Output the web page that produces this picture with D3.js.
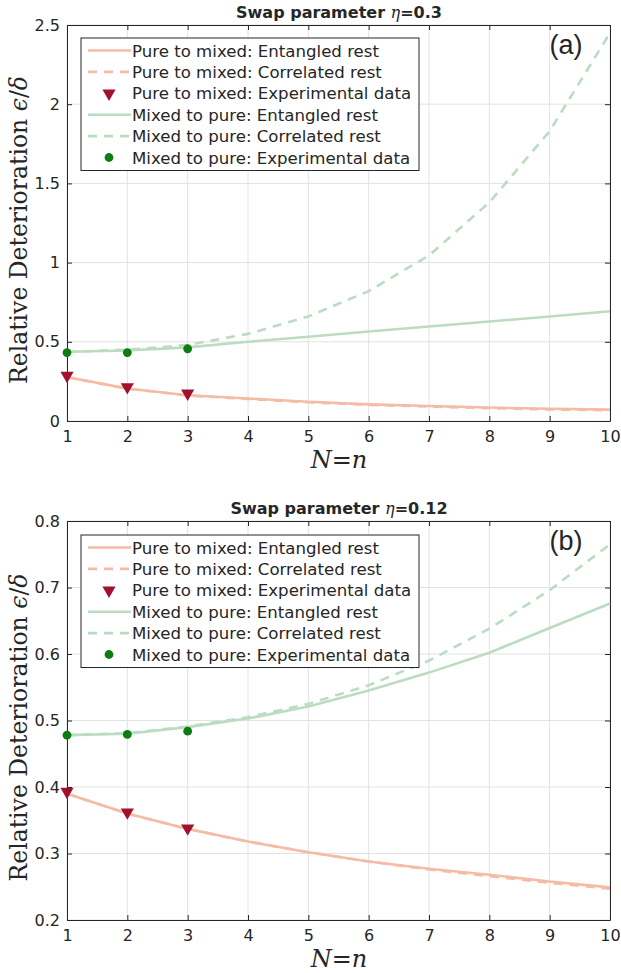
<!DOCTYPE html>
<html>
<head>
<meta charset="utf-8">
<script src="https://cdn.jsdelivr.net/npm/d3@7"></script>
<style>
  body { margin: 0; background: #fff; }
  text { fill: #262626; }
</style>
</head>
<body>
<script>
let width = 621,
    height = 973;

let nValues = [1, 2, 3, 4, 5, 6, 7, 8, 9, 10];
let expN = [1, 2, 3];

// panel (a), eta = 0.3
let aPureEntangled = [0.277, 0.205, 0.163, 0.142, 0.122, 0.105, 0.095, 0.085, 0.077, 0.072];
let aPureCorrelated = [0.277, 0.204, 0.161, 0.139, 0.118, 0.102, 0.091, 0.081, 0.073, 0.068];
let aPureExp = [0.287, 0.215, 0.175];
let aMixedEntangled = [0.437, 0.445, 0.465, 0.50, 0.532, 0.565, 0.597, 0.628, 0.66, 0.693];
let aMixedCorrelated = [0.437, 0.45, 0.48, 0.55, 0.66, 0.82, 1.045, 1.38, 1.83, 2.45];
let aMixedExp = [0.432, 0.432, 0.456];

// panel (b), eta = 0.12
let bPureEntangled = [0.39, 0.36, 0.337, 0.318, 0.302, 0.288, 0.277, 0.268, 0.258, 0.249];
let bPureCorrelated = [0.39, 0.36, 0.337, 0.318, 0.302, 0.288, 0.276, 0.266, 0.256, 0.247];
let bPureExp = [0.393, 0.362, 0.338];
let bMixedEntangled = [0.478, 0.48, 0.49, 0.503, 0.521, 0.545, 0.572, 0.602, 0.639, 0.676];
let bMixedCorrelated = [0.478, 0.481, 0.491, 0.505, 0.525, 0.553, 0.59, 0.638, 0.696, 0.765];
let bMixedExp = [0.478, 0.479, 0.484];

let aTicks = [0, 0.5, 1, 1.5, 2, 2.5];
let bTicks = [0.2, 0.3, 0.4, 0.5, 0.6, 0.7, 0.8];

let legendLabels = [
    "Pure to mixed: Entangled rest",
    "Pure to mixed: Correlated rest",
    "Pure to mixed: Experimental data",
    "Mixed to pure: Entangled rest",
    "Mixed to pure: Correlated rest",
    "Mixed to pure: Experimental data"
];

let pink = '#f5bba5',
    green = '#bcdcc2',
    darkRed = '#a2102f',
    darkGreen = '#0b7d12',
    axisColor = '#262626';

let svg = d3.select('body').append('svg')
    .attr('width', width)
    .attr('height', height);

let x = d3.scaleLinear().domain([1, 10]).range([67, 610]);

function drawPanel(cfg) {
    let g = svg.append('g');
    let y = d3.scaleLinear().domain(cfg.yDomain).range([cfg.bottom, cfg.top]);

    // grid
    g.selectAll('.vgrid').data(nValues).enter().append('line')
        .attr('x1', d => x(d)).attr('x2', d => x(d))
        .attr('y1', cfg.top).attr('y2', cfg.bottom)
        .attr('stroke', '#e2e2e2').attr('stroke-width', 1);
    g.selectAll('.hgrid').data(cfg.yTicks).enter().append('line')
        .attr('x1', x.range()[0]).attr('x2', x.range()[1])
        .attr('y1', d => y(d)).attr('y2', d => y(d))
        .attr('stroke', '#e2e2e2').attr('stroke-width', 1);

    // axes with inward ticks, box on
    let axB = g.append('g').attr('transform', 'translate(0,' + cfg.bottom + ')')
        .call(d3.axisBottom(x).tickValues(nValues).tickSizeInner(-5).tickSizeOuter(0).tickPadding(10));
    let axT = g.append('g').attr('transform', 'translate(0,' + cfg.top + ')')
        .call(d3.axisTop(x).tickValues(nValues).tickSizeInner(-5).tickSizeOuter(0).tickFormat(''));
    let axL = g.append('g').attr('transform', 'translate(' + x.range()[0] + ',0)')
        .call(d3.axisLeft(y).tickValues(cfg.yTicks).tickSizeInner(-5).tickSizeOuter(0).tickPadding(7).tickFormat(d3.format('')));
    let axR = g.append('g').attr('transform', 'translate(' + x.range()[1] + ',0)')
        .call(d3.axisRight(y).tickValues(cfg.yTicks).tickSizeInner(-5).tickSizeOuter(0).tickFormat(''));
    [axB, axT, axL, axR].forEach(a => {
        a.selectAll('path, line').attr('stroke', axisColor);
        a.selectAll('text').attr('font-family', 'DejaVu Sans').attr('font-size', 16).attr('fill', '#333');
    });

    let line = d3.line().x((d, i) => x(nValues[i])).y(d => y(d));

    let series = [
        {v: cfg.pureEnt, c: pink, dash: null},
        {v: cfg.pureCor, c: pink, dash: '9,7'},
        {v: cfg.mixEnt, c: green, dash: null},
        {v: cfg.mixCor, c: green, dash: '9,7'}
    ];
    series.forEach(s => {
        g.append('path').datum(s.v)
            .attr('d', line)
            .attr('fill', 'none')
            .attr('stroke', s.c)
            .attr('stroke-width', 2.6)
            .attr('stroke-dasharray', s.dash);
    });

    let tri = d3.symbol().type(d3.symbolTriangle).size(75);
    g.selectAll('.tri').data(cfg.pureExp).enter().append('path')
        .attr('d', tri)
        .attr('transform', (d, i) => 'translate(' + x(expN[i]) + ',' + y(d) + ') rotate(180)')
        .attr('fill', darkRed);
    g.selectAll('.dot').data(cfg.mixExp).enter().append('circle')
        .attr('cx', (d, i) => x(expN[i]))
        .attr('cy', d => y(d))
        .attr('r', 4.4)
        .attr('fill', darkGreen);

    // title
    let title = g.append('text')
        .attr('x', 339).attr('y', cfg.top - 7)
        .attr('text-anchor', 'middle')
        .attr('font-family', 'DejaVu Sans').attr('font-weight', 'bold').attr('font-size', 16)
        .attr('fill', '#000');
    title.append('tspan').text('Swap parameter ');
    title.append('tspan').text('η').attr('font-family', 'DejaVu Serif').attr('font-style', 'italic').attr('font-weight', 'normal');
    title.append('tspan').text('=' + cfg.eta);

    // panel label
    g.append('text')
        .attr('x', 566).attr('y', cfg.top + 29)
        .attr('text-anchor', 'middle')
        .attr('font-family', 'Liberation Sans').attr('font-size', 27).attr('fill', '#000')
        .text(cfg.label);

    // x label
    let xl = g.append('text')
        .attr('x', 339).attr('y', cfg.bottom + 47)
        .attr('text-anchor', 'middle')
        .attr('font-family', 'DejaVu Serif').attr('font-size', 24);
    xl.append('tspan').text('N').attr('font-style', 'italic');
    xl.append('tspan').text('=');
    xl.append('tspan').text('n').attr('font-style', 'italic');

    // y label
    let yl = g.append('text')
        .attr('transform', 'translate(27,' + ((cfg.top + cfg.bottom) / 2 + 7) + ') rotate(-90)')
        .attr('text-anchor', 'middle')
        .attr('font-family', 'DejaVu Serif').attr('font-size', 23.5);
    yl.append('tspan').text('Relative Deterioration ');
    yl.append('tspan').text('ϵ').attr('font-style', 'italic');
    yl.append('tspan').text('/');
    yl.append('tspan').text('δ').attr('font-style', 'italic');

    // legend
    let lg = g.append('g');
    let lx = 81, ly = cfg.top + cfg.legendOffset, rowH = 21.4;
    lg.append('rect')
        .attr('x', lx).attr('y', ly)
        .attr('width', 338).attr('height', 132.5)
        .attr('fill', '#fff').attr('stroke', '#262626').attr('stroke-width', 1);
    let styles = [
        {t: 'line', c: pink, dash: null},
        {t: 'line', c: pink, dash: '9,7'},
        {t: 'tri'},
        {t: 'line', c: green, dash: null},
        {t: 'line', c: green, dash: '9,7'},
        {t: 'dot'}
    ];
    legendLabels.forEach((lab, i) => {
        let cy = ly + 12.5 + i * rowH;
        let st = styles[i];
        if (st.t === 'line') {
            lg.append('line')
                .attr('x1', lx + 7).attr('x2', lx + 50)
                .attr('y1', cy).attr('y2', cy)
                .attr('stroke', st.c).attr('stroke-width', 2.6)
                .attr('stroke-dasharray', st.dash);
        } else if (st.t === 'tri') {
            lg.append('path').attr('d', tri)
                .attr('transform', 'translate(' + (lx + 28) + ',' + cy + ') rotate(180)')
                .attr('fill', darkRed);
        } else {
            lg.append('circle').attr('cx', lx + 28).attr('cy', cy).attr('r', 4.4).attr('fill', darkGreen);
        }
        lg.append('text')
            .attr('x', lx + 51).attr('y', cy + 6)
            .attr('font-family', 'DejaVu Sans').attr('font-size', 16.6)
            .text(lab);
    });
}

drawPanel({
    top: 25, bottom: 421, yDomain: [0, 2.5], yTicks: aTicks, eta: '0.3', label: '(a)', legendOffset: 13,
    pureEnt: aPureEntangled, pureCor: aPureCorrelated, pureExp: aPureExp,
    mixEnt: aMixedEntangled, mixCor: aMixedCorrelated, mixExp: aMixedExp
});

drawPanel({
    top: 521, bottom: 920, yDomain: [0.2, 0.8], yTicks: bTicks, eta: '0.12', label: '(b)', legendOffset: 14,
    pureEnt: bPureEntangled, pureCor: bPureCorrelated, pureExp: bPureExp,
    mixEnt: bMixedEntangled, mixCor: bMixedCorrelated, mixExp: bMixedExp
});
</script>
</body>
</html>
